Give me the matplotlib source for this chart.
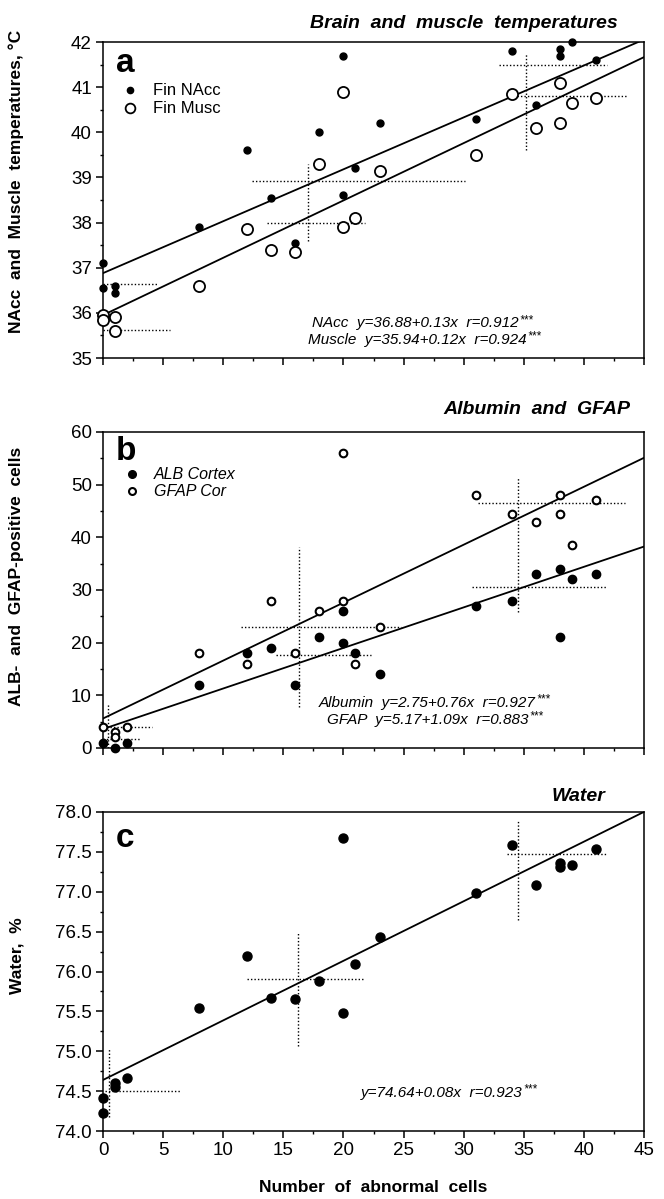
import matplotlib
matplotlib.use("Agg")
import matplotlib.pyplot as plt
from matplotlib.ticker import MultipleLocator, FormatStrFormatter

plt.rcParams['font.family'] = ['Liberation Sans', 'DejaVu Sans']

# --- panel a: brain and muscle temperatures ---
cells_nacc = [0, 0, 1, 1, 8, 12, 14, 16, 18, 20, 20, 21, 23, 31, 34, 36, 38, 38, 39, 41]
temp_nacc = [37.1, 36.55, 36.6, 36.45, 37.9, 39.6, 38.55, 37.55, 40.0, 41.7, 38.6, 39.2,
             40.2, 40.3, 41.8, 40.6, 41.85, 41.7, 42.0, 41.6]
cells_musc = [0, 0, 1, 1, 8, 12, 14, 16, 18, 20, 20, 21, 23, 31, 34, 36, 38, 38, 39, 41]
temp_musc = [35.95, 35.85, 35.9, 35.6, 36.6, 37.85, 37.4, 37.35, 39.3, 40.9, 37.9, 38.1,
             39.15, 39.5, 40.85, 40.1, 41.1, 40.2, 40.65, 40.75]
fit_a = [(36.88, 0.115), (35.95, 0.127)]          # intercept, slope as drawn
hbars_a = [(36.65, 0, 4.6), (35.62, 0, 5.6), (38.93, 12.4, 30.1), (37.98, 13.6, 21.8),
           (41.5, 32.9, 41.95), (40.8, 34.4, 43.7)]   # y, x from, x to
vbars_a = [(17.05, 37.6, 39.3), (35.2, 39.6, 41.76)]  # x, y from, y to
eq_a = ["NAcc  y=36.88+0.13x  r=0.912", "Muscle  y=35.94+0.12x  r=0.924"]

# --- panel b: albumin and GFAP ---
cells_alb = [0, 1, 2, 8, 12, 14, 16, 18, 20, 20, 21, 23, 31, 34, 36, 38, 38, 39, 41]
alb = [1, 0, 1, 12, 18, 19, 12, 21, 26, 20, 18, 14, 27, 28, 33, 34, 21, 32, 33]
cells_gfap = [0, 1, 1, 2, 8, 12, 14, 16, 18, 20, 20, 21, 23, 31, 34, 36, 38, 38, 39, 41]
gfap = [4, 3, 2, 4, 18, 16, 28, 18, 26, 56, 28, 16, 23, 48, 44.5, 43, 48, 44.5, 38.5, 47]
fit_b = [(3.6, 0.77), (5.6, 1.10)]
hbars_b = [(4.0, 0, 4.1), (1.7, 0, 3.2), (23.0, 11.5, 24.8), (17.6, 14.4, 22.3),
           (46.6, 31.2, 43.4), (30.5, 30.7, 41.95)]
vbars_b = [(0.4, 0, 8.5), (16.3, 7.8, 38.2), (34.55, 25.9, 51.5)]
eq_b = ["Albumin  y=2.75+0.76x  r=0.927", "GFAP  y=5.17+1.09x  r=0.883"]

# --- panel c: water ---
cells_water = [0, 0, 1, 1, 2, 8, 12, 14, 16, 18, 20, 20, 21, 23, 31, 34, 36, 38, 38, 39, 41]
water = [74.42, 74.23, 74.6, 74.55, 74.67, 75.54, 76.2, 75.67, 75.65, 75.88, 77.68, 75.48,
         76.09, 76.43, 76.98, 77.59, 77.09, 77.36, 77.31, 77.33, 77.54]
fit_c = (74.64, 0.0747)
hbars_c = [(74.5, 0.2, 6.5), (75.91, 11.95, 21.65), (77.47, 33.6, 41.85)]
vbars_c = [(0.5, 74.18, 75.04), (16.2, 75.06, 76.48), (34.55, 76.65, 77.9)]
eq_c = ["y=74.64+0.08x  r=0.923"]

XMAX = 45
EQ_FONT = ['Liberation Sans Narrow', 'Liberation Sans']


def style_axis(ax, ylim, ymajor, yminor, yfmt, ylabel, label_y):
    ax.set_xlim(0, XMAX)
    ax.set_ylim(*ylim)
    ax.xaxis.set_major_locator(MultipleLocator(5))
    ax.xaxis.set_minor_locator(MultipleLocator(2.5))
    ax.yaxis.set_major_locator(MultipleLocator(ymajor))
    ax.yaxis.set_minor_locator(MultipleLocator(yminor))
    ax.yaxis.set_major_formatter(FormatStrFormatter(yfmt))
    ax.tick_params(which='major', direction='out', length=5, width=1.1, labelsize=13.5, pad=3)
    ax.tick_params(which='minor', direction='out', length=2.5, width=1.0)
    for sp in ax.spines.values():
        sp.set_linewidth(1.1)
    ax.set_ylabel(ylabel, fontsize=12.5, fontweight='bold')
    ax.yaxis.set_label_coords(-0.146, label_y)


def draw_bars(ax, hbars, vbars):
    for y, x0, x1 in hbars:
        ax.plot([x0, x1], [y, y], color='black', lw=1.0, ls=(0, (1, 1.5)))
    for x, y0, y1 in vbars:
        ax.plot([x, x], [y0, y1], color='black', lw=1.0, ls=(0, (1, 1.5)))


def draw_fit(ax, a, b):
    ax.plot([0, XMAX], [a, a + b * XMAX], color='black', lw=1.3)


def draw_equations(ax, lines, xs, ys):
    for txt, x, y in zip(lines, xs, ys):
        t = ax.text(x, y, txt, transform=ax.transAxes, ha='right', va='baseline',
                    fontsize=11, style='italic', family=EQ_FONT)
        ax.annotate('***', xy=(1, 1), xycoords=t, xytext=(0.5, 1.5), textcoords='offset points',
                    ha='left', va='top', fontsize=8.5, style='italic', family=EQ_FONT)


fig = plt.figure(figsize=(6.64, 11.99), dpi=100)
left, width = 103 / 664, 541 / 664
ax_a = fig.add_axes([left, 1 - 358 / 1199, width, 316 / 1199])
ax_b = fig.add_axes([left, 1 - 748 / 1199, width, 316 / 1199])
ax_c = fig.add_axes([left, 1 - 1131 / 1199, width, 319 / 1199])

# panel a
draw_fit(ax_a, *fit_a[0])
draw_fit(ax_a, *fit_a[1])
draw_bars(ax_a, hbars_a, vbars_a)
ax_a.plot(cells_nacc, temp_nacc, 'o', color='black', ms=5, clip_on=False, zorder=3)
ax_a.plot(cells_musc, temp_musc, 'o', mfc='white', mec='black', mew=1.3, ms=8, clip_on=False, zorder=3)
style_axis(ax_a, (35, 42), 1, 0.5, '%d', 'NAcc  and  Muscle  temperatures, °C', 0.56)
ax_a.tick_params(axis='x', labelbottom=False)
ax_a.text(0.952, 1.044, 'Brain  and  muscle  temperatures', transform=ax_a.transAxes,
          ha='right', va='baseline', fontsize=14, fontweight='bold', style='italic')
ax_a.text(0.024, 0.905, 'a', transform=ax_a.transAxes, fontsize=24, fontweight='bold', va='baseline')
ax_a.plot([0.05], [0.848], 'o', color='black', ms=4.5, transform=ax_a.transAxes)
ax_a.plot([0.05], [0.791], 'o', mfc='white', mec='black', mew=1.3, ms=7, transform=ax_a.transAxes)
ax_a.text(0.092, 0.848, 'Fin NAcc', transform=ax_a.transAxes, va='center', fontsize=12)
ax_a.text(0.092, 0.791, 'Fin Musc', transform=ax_a.transAxes, va='center', fontsize=12)
draw_equations(ax_a, eq_a, [0.768, 0.783], [0.098, 0.045])

# panel b
draw_fit(ax_b, *fit_b[0])
draw_fit(ax_b, *fit_b[1])
draw_bars(ax_b, hbars_b, vbars_b)
ax_b.plot(cells_alb, alb, 'o', color='black', ms=6, clip_on=False, zorder=3)
ax_b.plot(cells_gfap, gfap, 'o', mfc='white', mec='black', mew=1.5, ms=5.5, clip_on=False, zorder=3)
style_axis(ax_b, (0, 60), 10, 5, '%d', 'ALB-  and  GFAP-positive  cells', 0.544)
ax_b.tick_params(axis='x', labelbottom=False)
ax_b.text(0.974, 1.057, 'Albumin  and  GFAP', transform=ax_b.transAxes,
          ha='right', va='baseline', fontsize=14, fontweight='bold', style='italic')
ax_b.text(0.024, 0.911, 'b', transform=ax_b.transAxes, fontsize=24, fontweight='bold', va='baseline')
ax_b.plot([0.054], [0.867], 'o', color='black', ms=5.5, transform=ax_b.transAxes)
ax_b.plot([0.054], [0.813], 'o', mfc='white', mec='black', mew=1.5, ms=5, transform=ax_b.transAxes)
ax_b.text(0.094, 0.867, 'ALB Cortex', transform=ax_b.transAxes, va='center', fontsize=11.5,
          style='italic', family=EQ_FONT)
ax_b.text(0.094, 0.813, 'GFAP Cor', transform=ax_b.transAxes, va='center', fontsize=11.5,
          style='italic', family=EQ_FONT)
draw_equations(ax_b, eq_b, [0.8, 0.787], [0.13, 0.076])

# panel c
draw_fit(ax_c, *fit_c)
draw_bars(ax_c, hbars_c, vbars_c)
ax_c.plot(cells_water, water, 'o', color='black', ms=6.5, clip_on=False, zorder=3)
style_axis(ax_c, (74, 78), 0.5, 0.25, '%.1f', 'Water,  %', 0.549)
ax_c.text(0.928, 1.034, 'Water', transform=ax_c.transAxes,
          ha='right', va='baseline', fontsize=14, fontweight='bold', style='italic')
ax_c.text(0.024, 0.89, 'c', transform=ax_c.transAxes, fontsize=24, fontweight='bold', va='baseline')
draw_equations(ax_c, eq_c, [0.776], [0.107])
ax_c.set_xlabel('Number  of  abnormal  cells', fontsize=12.5, fontweight='bold', va='top')
ax_c.xaxis.set_label_coords(0.5, -0.155)

fig.savefig('out.png', dpi=100)
